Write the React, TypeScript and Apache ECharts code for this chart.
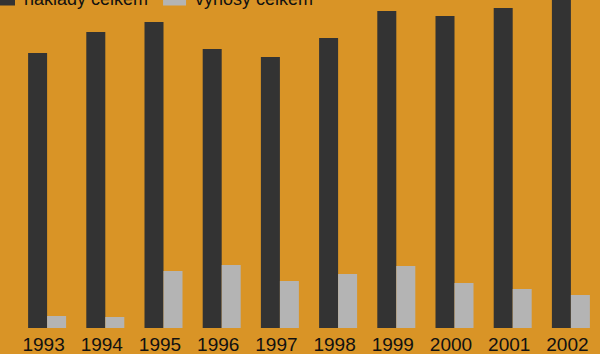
import React, { useEffect, useRef } from "react";
import * as echarts from "echarts";

const years = ["1993", "1994", "1995", "1996", "1997", "1998", "1999", "2000", "2001", "2002"];
const naklady = [275, 296, 306, 279, 271, 290, 317, 312, 320, 345];
const vynosy = [12, 11, 57, 63, 47, 54, 62, 45, 39, 33];
const seriesNames = ["náklady celkem", "výnosy celkem"];

const FONT = "'Liberation Sans', Arial, sans-serif";

export default function App() {
  const ref = useRef<HTMLDivElement>(null);
  useEffect(() => {
    if (!ref.current) return;
    const chart = echarts.init(ref.current, undefined, { renderer: "svg" });
    chart.setOption({
      animation: false,
      backgroundColor: "#D99426",
      legend: {
        top: -10,
        left: -8,
        padding: 0,
        itemWidth: 23,
        itemHeight: 13,
        itemGap: 15,
        icon: "rect",
        textStyle: { fontFamily: FONT, fontSize: 18, color: "#111", padding: [0, 0, 0, 4] },
        data: seriesNames,
      },
      grid: { left: 18, right: -5, top: 0, bottom: 26, containLabel: false },
      xAxis: {
        type: "category",
        data: years,
        axisLine: { show: false },
        axisTick: { show: false },
        axisLabel: {
          fontFamily: FONT,
          fontSize: 19,
          color: "#111",
          margin: 7,
          interval: 0,
          padding: [0, 7, 0, 0],
        },
      },
      yAxis: {
        type: "value",
        min: 0,
        max: 328,
        show: false,
        splitLine: { show: false },
      },
      series: [
        {
          name: seriesNames[0],
          type: "bar",
          data: naklady,
          barWidth: 19,
          barGap: "0%",
          itemStyle: { color: "#333333" },
        },
        {
          name: seriesNames[1],
          type: "bar",
          data: vynosy,
          barWidth: 19,
          itemStyle: { color: "#B4B4B4" },
        },
      ],
    });
    return () => chart.dispose();
  }, []);
  return <div ref={ref} style={{ width: 600, height: 354, position: "absolute", left: 0, top: 0 }} />;
}
